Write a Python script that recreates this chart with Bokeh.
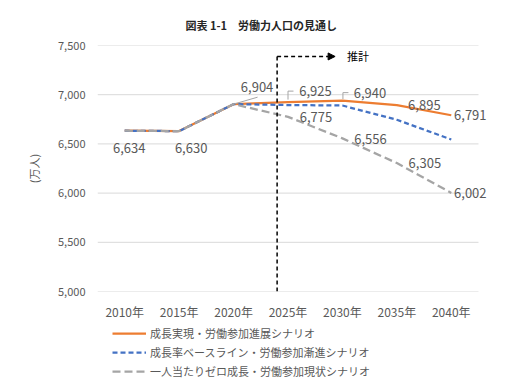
from bokeh.plotting import figure
from bokeh.layouts import column
from bokeh.models import (ColumnDataSource, Range1d, FixedTicker, Legend, LegendItem,
                          Label, Arrow, NormalHead, NumeralTickFormatter)
from bokeh.embed import file_html
from bokeh.resources import INLINE
from bokeh.core.properties import value

# ---------------- data ----------------
title_text = "図表 1-1\u3000労働力人口の見通し"
y_axis_title = "(万人)"
years = [2010, 2015, 2020, 2025, 2030, 2035, 2040]
year_labels = ["2010年", "2015年", "2020年", "2025年", "2030年", "2035年", "2040年"]
series_names = ["成長実現・労働参加進展シナリオ",
                "成長率ベースライン・労働参加漸進シナリオ",
                "一人当たりゼロ成長・労働参加現状シナリオ"]
growth = [6634, 6630, 6904, 6925, 6940, 6895, 6791]
baseline = [6634, 6630, 6904, 6895, 6890, 6745, 6545]
zero_growth = [6634, 6630, 6904, 6775, 6556, 6305, 6002]
y_ticks = [5000, 5500, 6000, 6500, 7000, 7500]
projection_start = 2024
projection_text = "推計"

# ---------------- layout / style ----------------
W = 510
H1, H2 = 322, 57                 # chart figure + legend strip
BL, BR, BT, BB = 97, 8, 45, 30
X0, XG = 2007.5, 2042.5          # category area (gridline extent)
Y0, Y1 = 5000, 7500
GRID_W = 381
frame_w = W - BL - BR
frame_h = 247
px_x = GRID_W / (XG - X0)
px_y = frame_h / (Y1 - Y0)
X1 = X0 + frame_w / px_x

GRAY_TXT = "#595959"
FONT = "Noto Sans CJK JP"
C_ORANGE, C_BLUE, C_GRAY = "#ED7D31", "#4472C4", "#A5A5A5"
styles = [dict(line_color=C_ORANGE, line_width=2.25),
          dict(line_color=C_BLUE, line_width=2.25, line_dash="5 3"),
          dict(line_color=C_GRAY, line_width=2.25, line_dash="8 4")]

p = figure(width=W, height=H1, output_backend="svg", toolbar_location=None,
           x_range=Range1d(X0, X1), y_range=Range1d(Y0, Y1),
           min_border_left=BL, min_border_right=BR, min_border_top=BT, min_border_bottom=BB,
           title=title_text)
p.outline_line_color = None
p.background_fill_color = "white"
p.border_fill_color = "white"

p.title.align = "left"
p.title.offset = 88
p.title.standoff = 26
p.title.text_font = FONT
p.title.text_font_size = "11px"
p.title.text_font_style = "bold"
p.title.text_color = "#262626"

# axes
p.xaxis.ticker = FixedTicker(ticks=years)
p.xaxis.major_label_overrides = {y: lab for y, lab in zip(years, year_labels)}
p.xaxis.axis_line_color = None
p.xaxis.major_tick_line_color = None
p.xaxis.major_tick_out = 0
p.xaxis.minor_tick_line_color = None
p.xaxis.major_label_text_font = FONT
p.xaxis.major_label_text_font_size = "12px"
p.xaxis.major_label_text_color = GRAY_TXT
p.xaxis.major_label_standoff = 11

p.yaxis.ticker = FixedTicker(ticks=y_ticks)
p.yaxis.formatter = NumeralTickFormatter(format="0,0")
p.yaxis.axis_line_color = None
p.yaxis.major_tick_line_color = None
p.yaxis.major_tick_out = 0
p.yaxis.minor_tick_line_color = None
p.yaxis.major_label_text_font = FONT
p.yaxis.major_label_text_font_size = "11px"
p.yaxis.major_label_text_color = GRAY_TXT
p.yaxis.major_label_standoff = 12
p.yaxis.axis_label = y_axis_title
p.yaxis.axis_label_text_font = FONT
p.yaxis.axis_label_text_font_size = "11px"
p.yaxis.axis_label_text_font_style = "normal"
p.yaxis.axis_label_text_color = GRAY_TXT
p.yaxis.axis_label_standoff = 13

p.xgrid.visible = False
p.ygrid.visible = False
p.segment(x0=[X0] * len(y_ticks), x1=[XG] * len(y_ticks), y0=y_ticks, y1=y_ticks,
          line_color="#D9D9D9", line_width=1)

# lines
series = [growth, baseline, zero_growth]
for vals, st in zip(series, styles):
    p.line(years, vals, **st)

# projection marker
arrow_y = Y1 - 11 / px_y
p.segment(x0=[projection_start], y0=[Y0], x1=[projection_start], y1=[arrow_y],
          line_color="black", line_width=1.5, line_dash="4 3")
p.add_layout(Arrow(end=NormalHead(size=7, fill_color="black", line_color="black", line_width=1),
                   x_start=projection_start, y_start=arrow_y,
                   x_end=projection_start + 58 / px_x, y_end=arrow_y,
                   line_color="black", line_width=1.5, line_dash="4 3"))
p.add_layout(Label(x=projection_start + 70 / px_x, y=arrow_y, text=projection_text,
                   text_font=FONT, text_font_size="11px", text_color="black",
                   text_baseline="middle", text_align="left"))

# data labels
lab_x, lab_y, lab_t, lab_dx, lab_dy = [], [], [], [], []
growth_offsets = [(4.5, 17.5), (12, 17), (23.5, -17), (27.5, -11), (27.6, -8), (27.5, 0), (19, 0)]
for yr, v, (dx, dy) in zip(years, growth, growth_offsets):
    lab_x.append(yr); lab_y.append(v); lab_t.append(f"{v:,}"); lab_dx.append(dx); lab_dy.append(dy)
zero_offsets = {2025: (28, 0), 2030: (28, 0.5), 2035: (28, 0), 2040: (19, 0)}
for yr, v in zip(years, zero_growth):
    if yr in zero_offsets:
        dx, dy = zero_offsets[yr]
        lab_x.append(yr); lab_y.append(v); lab_t.append(f"{v:,}"); lab_dx.append(dx); lab_dy.append(dy)
src = ColumnDataSource(dict(x=lab_x, y=lab_y, text=lab_t, xo=lab_dx, yo=lab_dy))
p.text(x="x", y="y", text="text", x_offset="xo", y_offset="yo", source=src,
       text_font=value(FONT), text_font_size=value("13px"), text_color=GRAY_TXT,
       text_align="center", text_baseline="middle")

# leader lines
def pt(x, y, dx, dy):
    return x + dx / px_x, y - dy / px_y
i20, i25, i30 = years.index(2020), years.index(2025), years.index(2030)
leaders = [
    [pt(years[i20], zero_growth[i20], 0, 0), pt(years[i20], zero_growth[i20], 24, -7)],
    [pt(years[i25], growth[i25], 0, -2.5), pt(years[i25], growth[i25], 0, -11), pt(years[i25], growth[i25], 5.5, -11)],
    [pt(years[i30], growth[i30], 0.5, -1.5), pt(years[i30], growth[i30], 0.5, -8), pt(years[i30], growth[i30], 6, -8)],
]
p.multi_line(xs=[[a for a, b in l] for l in leaders], ys=[[b for a, b in l] for l in leaders],
             line_color="#A6A6A6", line_width=1)

# legend strip (frame aligned with the chart frame): same series drawn off-range,
# only their legend keys show
q = figure(width=W, height=H2, output_backend="svg", toolbar_location=None,
           x_range=Range1d(0, 1), y_range=Range1d(0, 1),
           x_axis_location=None, y_axis_location=None,
           min_border_left=BL, min_border_right=BR, min_border_top=3, min_border_bottom=0)
q.outline_line_color = None
q.xgrid.visible = False
q.ygrid.visible = False
keys = [q.line(years, vals, **st) for vals, st in zip(series, styles)]
legend = Legend(items=[LegendItem(label=n, renderers=[r]) for n, r in zip(series_names, keys)],
                location=(15, 0), orientation="vertical",
                glyph_width=34, glyph_height=14, label_height=14, spacing=3,
                padding=0, margin=0, border_line_color=None, background_fill_alpha=0,
                label_text_font=FONT, label_text_font_size="11px", label_text_color=GRAY_TXT,
                label_standoff=4)
q.add_layout(legend, "center")

layout = column(p, q, spacing=0)
open("out.html", "w").write(file_html(layout, INLINE))
